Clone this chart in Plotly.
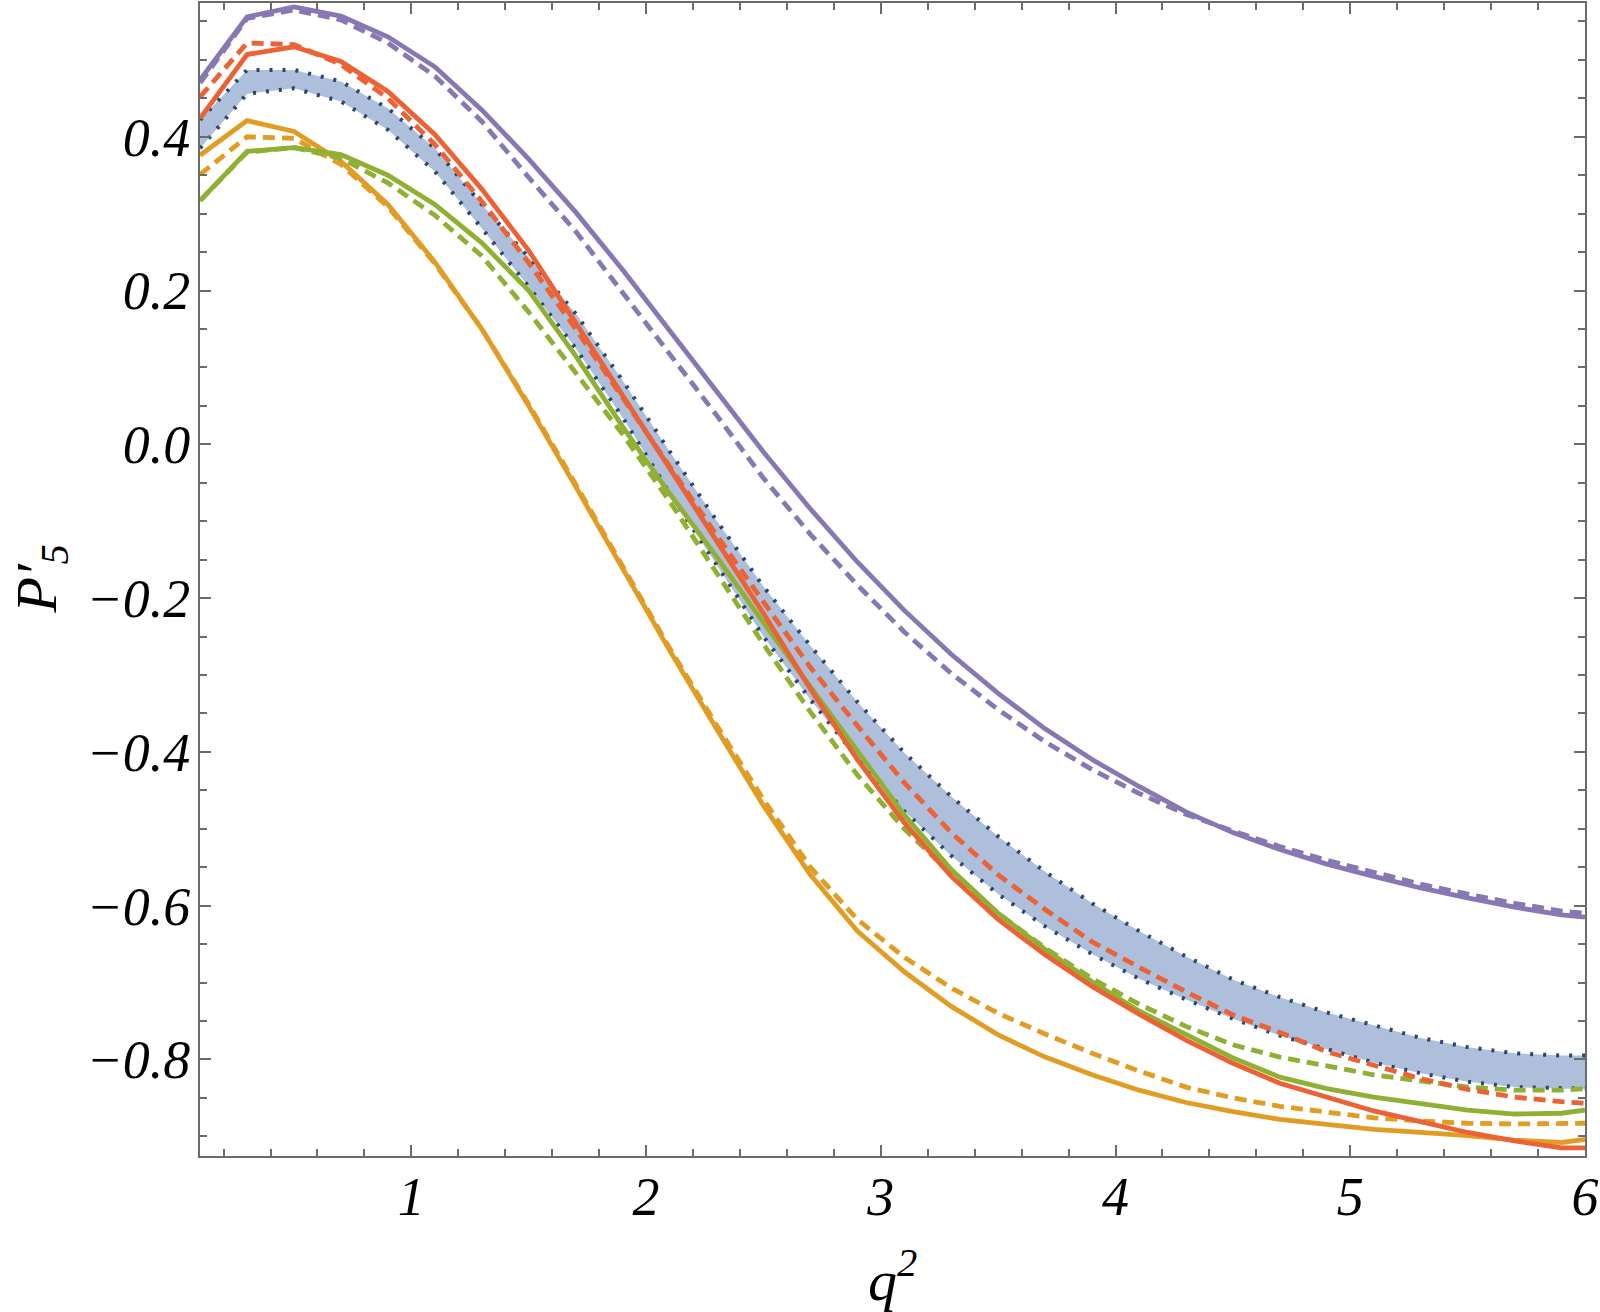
import plotly.graph_objects as go

# ---------------- data ----------------
q2 = [0.1, 0.3, 0.5, 0.7, 0.9, 1.1, 1.3, 1.5, 1.7, 1.9, 2.1, 2.3, 2.5, 2.7, 2.9,
      3.1, 3.3, 3.5, 3.7, 3.9, 4.1, 4.3, 4.5, 4.7, 4.9, 5.1, 5.3, 5.5, 5.7, 5.9, 6.0]

purple_solid = [0.474, 0.556, 0.569, 0.557, 0.530, 0.491, 0.435, 0.371, 0.302, 0.227, 0.148,
                0.068, -0.010, -0.084, -0.153, -0.216, -0.273, -0.324, -0.370, -0.410, -0.445,
                -0.478, -0.505, -0.527, -0.546, -0.562, -0.577, -0.590, -0.602, -0.612, -0.615]
purple_dashed = [0.470, 0.554, 0.565, 0.552, 0.522, 0.479, 0.420, 0.347, 0.277, 0.198, 0.118,
                 0.038, -0.044, -0.117, -0.183, -0.244, -0.298, -0.345, -0.387, -0.423, -0.454,
                 -0.481, -0.503, -0.523, -0.541, -0.557, -0.572, -0.585, -0.597, -0.607, -0.610]
red_solid = [0.424, 0.507, 0.517, 0.498, 0.459, 0.403, 0.332, 0.252, 0.158, 0.063, -0.031,
             -0.126, -0.220, -0.318, -0.410, -0.492, -0.562, -0.618, -0.664, -0.705, -0.741,
             -0.775, -0.805, -0.831, -0.849, -0.867, -0.881, -0.895, -0.906, -0.915, -0.915]
red_dashed = [0.452, 0.522, 0.520, 0.494, 0.450, 0.390, 0.316, 0.236, 0.150, 0.060, -0.030,
              -0.118, -0.205, -0.290, -0.366, -0.440, -0.505, -0.560, -0.605, -0.647, -0.680,
              -0.712, -0.742, -0.765, -0.790, -0.807, -0.825, -0.839, -0.849, -0.855, -0.857]
green_solid = [0.317, 0.381, 0.386, 0.377, 0.350, 0.312, 0.262, 0.200, 0.115, 0.023, -0.064,
               -0.146, -0.232, -0.316, -0.400, -0.482, -0.553, -0.610, -0.657, -0.699, -0.737,
               -0.768, -0.798, -0.823, -0.838, -0.849, -0.858, -0.866, -0.871, -0.870, -0.866]
green_dashed = [0.317, 0.380, 0.386, 0.372, 0.340, 0.298, 0.245, 0.172, 0.093, 0.013, -0.074,
                -0.168, -0.260, -0.348, -0.430, -0.500, -0.559, -0.610, -0.655, -0.695, -0.728,
                -0.757, -0.781, -0.797, -0.809, -0.820, -0.828, -0.836, -0.840, -0.840, -0.838]
orange_solid = [0.376, 0.421, 0.407, 0.368, 0.312, 0.237, 0.150, 0.050, -0.055, -0.163, -0.268,
                -0.370, -0.470, -0.560, -0.633, -0.686, -0.731, -0.768, -0.797, -0.820, -0.840,
                -0.856, -0.868, -0.878, -0.884, -0.891, -0.895, -0.899, -0.905, -0.908, -0.904]
orange_dashed = [0.351, 0.400, 0.398, 0.364, 0.309, 0.235, 0.150, 0.052, -0.052, -0.160, -0.265,
                 -0.365, -0.462, -0.550, -0.618, -0.667, -0.707, -0.740, -0.767, -0.792, -0.815,
                 -0.836, -0.850, -0.861, -0.869, -0.876, -0.880, -0.883, -0.884, -0.884, -0.883]
band_upper = [0.422, 0.487, 0.487, 0.472, 0.437, 0.385, 0.312, 0.243, 0.170, 0.083, -0.009,
              -0.099, -0.185, -0.262, -0.335, -0.401, -0.458, -0.510, -0.556, -0.597, -0.633,
              -0.666, -0.696, -0.719, -0.739, -0.756, -0.772, -0.784, -0.792, -0.795, -0.795]
band_lower = [0.385, 0.456, 0.463, 0.446, 0.409, 0.355, 0.281, 0.205, 0.125, 0.035, -0.063,
              -0.157, -0.250, -0.332, -0.408, -0.477, -0.535, -0.585, -0.627, -0.663, -0.695,
              -0.722, -0.747, -0.769, -0.787, -0.804, -0.818, -0.829, -0.836, -0.838, -0.838]

x_ticks = [1, 2, 3, 4, 5, 6]
x_ticktext = ["1", "2", "3", "4", "5", "6"]
y_ticks = [-0.8, -0.6, -0.4, -0.2, 0.0, 0.2, 0.4]
y_ticktext = ["\u22120.8", "\u22120.6", "\u22120.4", "\u22120.2", "0.0", "0.2", "0.4"]

# ---------------- styles ----------------
PURPLE = "#8778B3"
RED = "#EB6235"
GREEN = "#8FB032"
ORANGE = "#E19C24"
BAND_FILL = "#ADBFDA"
BAND_EDGE = "#2C466C"
FRAME = "#6b6b6b"
LW = 4.8
DASH = "12px,7px"
FONT = "Liberation Serif"

fig = go.Figure()

# band fill
fig.add_trace(go.Scatter(x=q2, y=band_lower, mode="lines", line=dict(width=0, color=BAND_FILL),
                         showlegend=False, hoverinfo="skip"))
fig.add_trace(go.Scatter(x=q2, y=band_upper, mode="lines", line=dict(width=0, color=BAND_FILL),
                         fill="tonexty", fillcolor=BAND_FILL, showlegend=False, hoverinfo="skip"))
# band dotted edges
for edge in (band_upper, band_lower):
    fig.add_trace(go.Scatter(x=q2, y=edge, mode="lines",
                             line=dict(width=4, color=BAND_EDGE, dash="3px,10px"),
                             showlegend=False))

def add_line(y, color, dashed):
    fig.add_trace(go.Scatter(x=q2, y=y, mode="lines",
                             line=dict(width=LW, color=color, dash=DASH if dashed else "solid"),
                             showlegend=False))

add_line(orange_solid, ORANGE, False)
add_line(orange_dashed, ORANGE, True)
add_line(green_solid, GREEN, False)
add_line(green_dashed, GREEN, True)
add_line(red_solid, RED, False)
add_line(red_dashed, RED, True)
add_line(purple_solid, PURPLE, False)
add_line(purple_dashed, PURPLE, True)

tickfont = dict(family=FONT, size=54, color="black", style="italic")

fig.update_xaxes(range=[0.0995, 6.0], showline=True, linecolor=FRAME, linewidth=1.7, mirror="ticks",
                 ticks="inside", ticklen=11, tickwidth=1.5, tickcolor=FRAME,
                 tickvals=x_ticks, ticktext=x_ticktext, tickfont=tickfont,
                 showgrid=False, zeroline=False, ticklabelstandoff=-8,
                 minor=dict(ticks="inside", dtick=0.2, tick0=0, ticklen=7, tickwidth=1.5,
                            tickcolor=FRAME, showgrid=False))
fig.update_yaxes(range=[-0.9256, 0.574], showline=True, linecolor=FRAME, linewidth=1.7, mirror="ticks",
                 ticks="inside", ticklen=11, tickwidth=1.5, tickcolor=FRAME,
                 tickvals=y_ticks, ticktext=y_ticktext, tickfont=tickfont,
                 showgrid=False, zeroline=False, ticklabelstandoff=-3,
                 minor=dict(ticks="inside", dtick=0.05, tick0=0, ticklen=7, tickwidth=1.5,
                            tickcolor=FRAME, showgrid=False))

fig.add_annotation(text="<i>q<sup>2</sup></i>", xref="paper", yref="paper", x=0.5, y=0,
                   xanchor="center", yanchor="top", yshift=-82, showarrow=False,
                   font=dict(family=FONT, size=58, color="black"))
fig.add_annotation(text="<i>P\u2032<sub>5</sub></i>", xref="paper", yref="paper", x=0, y=0.5,
                   xanchor="center", yanchor="middle", xshift=-160, textangle=-90, showarrow=False,
                   font=dict(family=FONT, size=58, color="black"))

fig.update_layout(width=1600, height=1312, margin=dict(l=200, r=15, t=1, b=156, pad=0),
                  paper_bgcolor="white", plot_bgcolor="white", showlegend=False)

fig.write_html("out.html", config={"displayModeBar": False},
               post_script="document.body.style.margin='0';")
